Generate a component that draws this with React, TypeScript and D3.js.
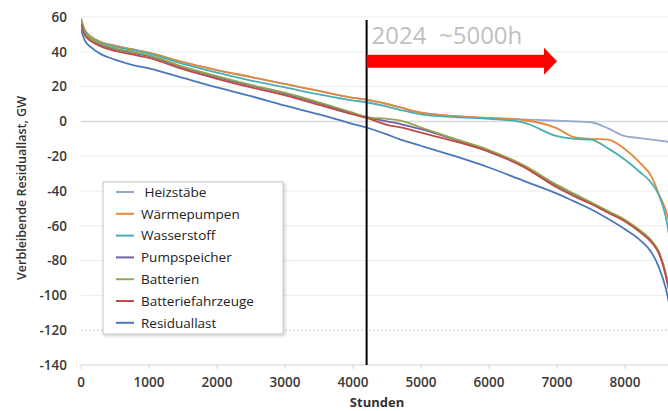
import * as d3 from "d3";

// Stunden (sortierte Dauerlinie)
const hours = [0, 50, 150, 300, 500, 750, 1000, 1500, 2000, 2500, 3000, 3500, 4000, 4200, 4500, 4700, 5000, 5500, 6000, 6500, 7000, 7250, 7500, 7750, 8000, 8200, 8400, 8500, 8600, 8650, 8700];

const heizstaebe = [59, 53, 48.5, 45.5, 43.5, 41.5, 39.5, 34, 29.5, 25.5, 21.5, 17.5, 13.5, 12.5, 10, 8, 5, 3, 2, 1.2, 0.5, 0, -0.5, -4, -8.5, -9.5, -10.5, -11, -11.5, -12, -12.5];
const waermepumpen = [59, 53, 48.5, 45.5, 43.5, 41.5, 39.5, 34, 29.5, 25.5, 21.5, 17.5, 13.5, 12.5, 10, 8, 5, 3, 2, 0.8, -4, -9, -10, -10.5, -16, -23, -32.5, -42, -51, -58, -70];
const wasserstoff = [58, 52, 48, 45, 43, 41, 39, 33, 28, 23.5, 19.5, 15.5, 12, 11, 8.5, 6.5, 4, 2.5, 1.5, -0.5, -8.5, -10, -10.5, -15.5, -22, -28.5, -36, -42.5, -55, -66, -80];
const pumpspeicher = [57, 51, 47, 44, 41.5, 39.5, 37.5, 31, 25.5, 20.5, 16, 10.5, 4.5, 2.5, 0, -1.5, -4.5, -10.5, -17, -25.5, -37, -42, -47, -52, -57, -62.5, -69.5, -75.5, -88, -97, -109];
const batterien = [57.5, 51.5, 47.5, 44.5, 42, 40, 38, 31.5, 26, 21, 16.5, 11, 5, 2.5, 1.5, 0.5, -3.5, -10, -16.5, -25, -36.5, -41.5, -46.5, -51.5, -56.5, -62, -69, -75, -87.5, -96.5, -108.5];
const batteriefahrzeuge = [56, 50, 46, 43, 40.5, 38.5, 36.5, 30, 24.5, 19.5, 15, 9.5, 4, 2, -2, -3.5, -6.5, -11.5, -17.5, -26, -38, -43, -47.5, -52.5, -57.5, -63, -70, -76, -89, -98, -110];
const residuallast = [53, 47, 42.5, 38.5, 35.5, 32.5, 30.5, 25, 19.5, 14.5, 9, 4, -1.5, -3.5, -7.5, -10.5, -14, -20, -26.5, -34, -41.5, -46, -50.5, -56, -62, -67.5, -76, -84, -96, -105, -118];

const seriesNames = [" Heizstäbe", "Wärmepumpen", "Wasserstoff", "Pumpspeicher", "Batterien", "Batteriefahrzeuge", "Residuallast"];
const seriesValues = [heizstaebe, waermepumpen, wasserstoff, pumpspeicher, batterien, batteriefahrzeuge, residuallast];
const seriesColors = ["#93aacb", "#e4893a", "#4aaeb2", "#6f62a0", "#93a84a", "#bf4b48", "#4a78be"];

const yTicks = [60, 40, 20, 0, -20, -40, -60, -80, -100, -120, -140];
const xTicks = [0, 1000, 2000, 3000, 4000, 5000, 6000, 7000, 8000];

// Markierung 2024
const markerHour = 4200;
const arrowEnd = 7000;
const arrowLevel = 34.5;
const markerText = "2024  ~5000h";

const W = 668;
const H = 411;
const font = "'Open Sans', sans-serif";

export default function App() {
  const x = d3.scaleLinear().domain([0, 8760]).range([81, 676.7]);
  const y = d3.scaleLinear().domain([60, -140]).range([17, 365]);

  const line = d3
    .line<number>()
    .x((_, i) => x(hours[i]))
    .y((d) => y(d))
    .curve(d3.curveMonotoneX);

  const ay = y(arrowLevel);
  const ax0 = x(markerHour);
  const ax1 = x(arrowEnd);
  const arrow = `M${ax0},${ay - 6.5} L${ax1 - 13},${ay - 6.5} L${ax1 - 13},${ay - 13.5} L${ax1},${ay} L${ax1 - 13},${ay + 13.5} L${ax1 - 13},${ay + 6.5} L${ax0},${ay + 6.5} Z`;

  const legX = 103;
  const legY = 182;
  const legStep = 21.8;

  return (
    <svg width={W} height={H} style={{ position: "absolute", left: 0, top: 0, background: "#fff" }}>
      <defs>
        <clipPath id="plot">
          <rect x={81} y={0} width={W - 81} height={370} />
        </clipPath>
        <filter id="shadow" x="-10%" y="-10%" width="130%" height="130%">
          <feDropShadow dx="1.5" dy="1.5" stdDeviation="1.5" floodColor="#000" floodOpacity="0.2" />
        </filter>
      </defs>

      {/* Gitterlinien */}
      {yTicks.map((t) => (
        <line
          key={t}
          x1={81}
          x2={W}
          y1={y(t)}
          y2={y(t)}
          stroke={t === -140 ? "#d4d4d4" : t === 0 ? "#d9d9d9" : t === -120 ? "#c8c8c8" : "#ebebeb"}
          strokeWidth={t === 0 ? 1.5 : 1}
          strokeDasharray={t === -120 ? "2,2" : undefined}
        />
      ))}
      {xTicks.map((t) => (
        <line key={t} x1={x(t)} x2={x(t)} y1={y(-140)} y2={y(-140) + 4} stroke="#d4d4d4" />
      ))}

      {/* Achsenbeschriftung */}
      {yTicks.map((t) => (
        <text key={t} x={67} y={y(t)} dy="0.35em" textAnchor="end" fontFamily={font} fontWeight={600} fontSize={13.5} fill="#3a3a3a">
          {t}
        </text>
      ))}
      {xTicks.map((t) => (
        <text key={t} x={x(t)} y={387} textAnchor="middle" fontFamily={font} fontWeight={600} fontSize={13.5} fill="#3a3a3a">
          {t}
        </text>
      ))}
      <text x={377} y={407} textAnchor="middle" fontFamily={font} fontWeight={700} fontSize={13} fill="#333">
        Stunden
      </text>
      <text
        transform={`translate(22,188) rotate(-90)`}
        dy="0.35em"
        textAnchor="middle"
        fontFamily={font}
        fontWeight={600}
        fontSize={12.5}
        fill="#333"
      >
        Verbleibende Residuallast, GW
      </text>

      {/* Linien */}
      <g clipPath="url(#plot)">
        {seriesValues.map((vals, i) => (
          <path key={i} d={line(vals) ?? ""} fill="none" stroke={seriesColors[i]} strokeWidth={1.8} />
        ))}
      </g>

      {/* Legende */}
      <rect x={legX} y={legY} width={180} height={152} fill="#fff" stroke="#c4c4c4" filter="url(#shadow)" />
      {seriesNames.map((n, i) => (
        <g key={n} transform={`translate(${legX},${legY + 10 + i * legStep})`}>
          <line x1={13} x2={31} y1={0} y2={0} stroke={seriesColors[i]} strokeWidth={2} />
          <text x={38} y={0} dy="0.35em" fontFamily={font} fontWeight={500} fontSize={13.5} fill="#222" style={{ whiteSpace: "pre" }}>
            {n}
          </text>
        </g>
      ))}

      {/* Markierung */}
      <line x1={ax0} x2={ax0} y1={20} y2={y(-140)} stroke="#000" strokeWidth={2} />
      <path d={arrow} fill="#ff0000" />
      <text x={ax0 + 5} y={43.5} fontFamily={font} fontSize={24} fill="#c0c0c0" style={{ whiteSpace: "pre" }}>
        {markerText}
      </text>
    </svg>
  );
}
